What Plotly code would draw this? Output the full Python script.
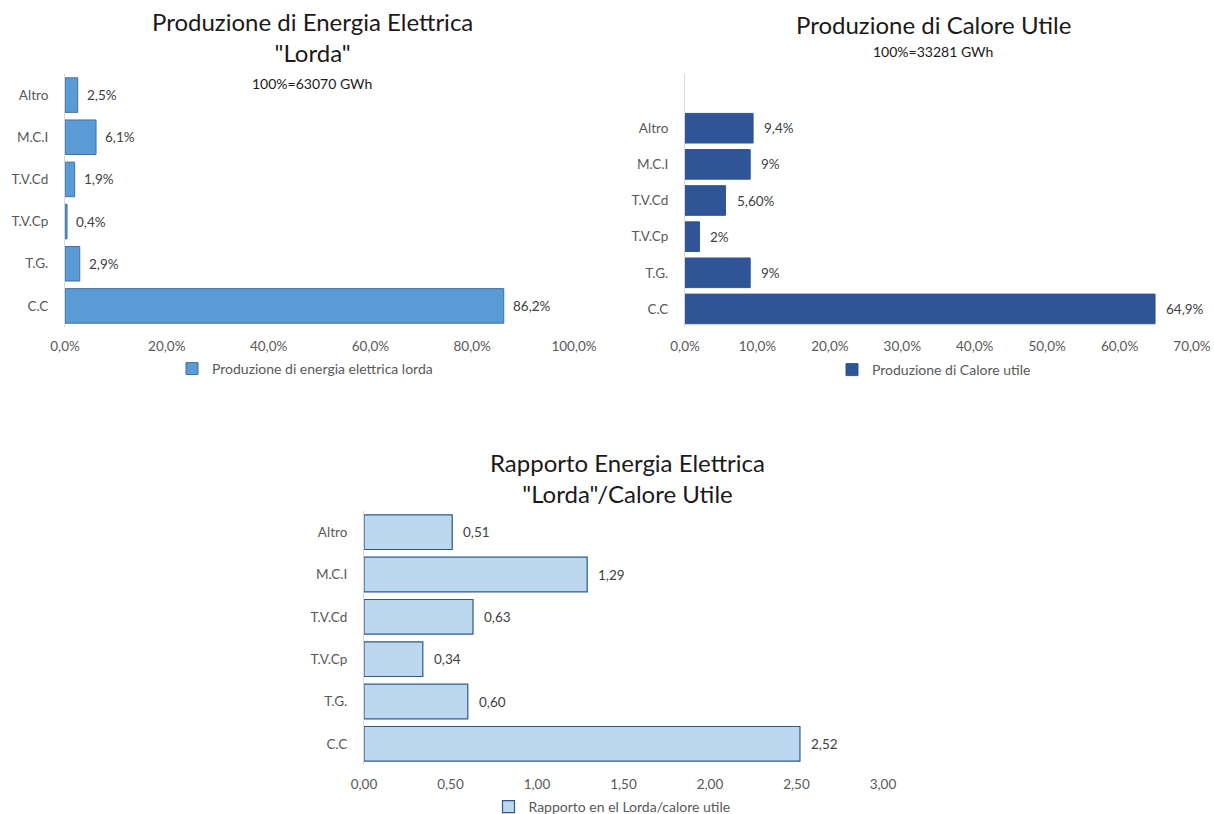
import plotly.graph_objects as go

# Categories (top to bottom)
categories = ["Altro", "M.C.I", "T.V.Cd", "T.V.Cp", "T.G.", "C.C"]

# Gross electric energy production share (%)
elettrica_pct = [2.5, 6.1, 1.9, 0.4, 2.9, 86.2]
elettrica_lbl = ["2,5%", "6,1%", "1,9%", "0,4%", "2,9%", "86,2%"]

# Useful heat production share (%)
calore_pct = [9.4, 9, 5.6, 2, 9, 64.9]
calore_lbl = ["9,4%", "9%", "5,60%", "2%", "9%", "64,9%"]

# Ratio gross electric energy / useful heat
rapporto = [0.51, 1.29, 0.63, 0.34, 0.60, 2.52]
rapporto_lbl = ["0,51", "1,29", "0,63", "0,34", "0,60", "2,52"]

FONT = "Lato"
TICK_COLOR = "#595959"
LABEL_COLOR = "#404040"

fig = go.Figure()

fig.add_trace(go.Bar(
    y=categories, x=elettrica_pct, orientation="h",
    name="Produzione di energia elettrica lorda",
    marker=dict(color="#5B9BD5", line=dict(color="#41719C", width=1)),
    xaxis="x", yaxis="y", legend="legend", showlegend=True,
))

fig.add_trace(go.Bar(
    y=categories, x=calore_pct, orientation="h",
    name="Produzione di Calore utile",
    marker=dict(color="#2F5597", line=dict(color="#2F5597", width=1)),
    xaxis="x2", yaxis="y2", legend="legend2", showlegend=True,
))

fig.add_trace(go.Bar(
    y=categories, x=rapporto, orientation="h",
    name="Rapporto en el Lorda/calore utile",
    marker=dict(color="#BDD7EE", line=dict(color="#2E5A8A", width=1.2)),
    xaxis="x3", yaxis="y3", legend="legend3", showlegend=True,
))

def xax(domain, rng, dtick, fmt, suffix, anchor):
    return dict(
        domain=domain, range=rng, dtick=dtick, tick0=0,
        tickformat=fmt, ticksuffix=suffix,
        showgrid=False, zeroline=False, showline=False,
        ticks="", ticklabelstandoff=9, automargin=False,
        ticklabeloverflow="allow",
        tickfont=dict(family=FONT, size=13.5, color=TICK_COLOR),
        anchor=anchor, fixedrange=True,
    )

def yax(domain, rng, anchor):
    return dict(
        domain=domain, range=rng, type="category",
        categoryorder="array", categoryarray=categories,
        showgrid=False, zeroline=False,
        showline=True, linecolor="#D9D9D9", linewidth=1,
        ticks="", ticklabelstandoff=13, automargin=False,
        tickfont=dict(family=FONT, size=13.5, color=TICK_COLOR),
        anchor=anchor, fixedrange=True,
    )

W, H = 1214, 814
px = lambda v: v / W
py = lambda v: 1 - v / H

def legend_at(x, y):
    return dict(
        x=px(x), y=py(y), xanchor="center", yanchor="middle",
        orientation="h", bgcolor="rgba(0,0,0,0)",
        font=dict(family=FONT, size=14, color=TICK_COLOR),
        itemwidth=30,
    )

title_font = dict(family=FONT, size=24, color="#1a1a1a")
sub_font = dict(family=FONT, size=14, color="#1a1a1a")

annotations = [
    dict(text="Produzione di Energia Elettrica<br>\"Lorda\"", x=px(312), y=py(37),
         xref="paper", yref="paper", showarrow=False, font=title_font,
         xanchor="center", yanchor="middle"),
    dict(text="100%=63070 GWh", x=px(312), y=py(84), xref="paper", yref="paper",
         showarrow=False, font=sub_font, xanchor="center", yanchor="middle"),
    dict(text="Produzione di Calore Utile", x=px(934), y=py(24),
         xref="paper", yref="paper", showarrow=False, font=title_font,
         xanchor="center", yanchor="middle"),
    dict(text="100%=33281 GWh", x=px(933), y=py(52), xref="paper", yref="paper",
         showarrow=False, font=sub_font, xanchor="center", yanchor="middle"),
    dict(text="Rapporto Energia Elettrica<br>\"Lorda\"/Calore Utile", x=px(627), y=py(478),
         xref="paper", yref="paper", showarrow=False, font=title_font,
         xanchor="center", yanchor="middle"),
]

# value labels placed just past the end of each bar
label_font = dict(family=FONT, size=13.5, color=LABEL_COLOR)
for vals, lbls, xr, yr, shift in [
    (elettrica_pct, elettrica_lbl, "x", "y", 7),
    (calore_pct, calore_lbl, "x2", "y2", 9),
    (rapporto, rapporto_lbl, "x3", "y3", 9),
]:
    for cat, v, t in zip(categories, vals, lbls):
        annotations.append(dict(
            x=v, y=cat, xref=xr, yref=yr, text=t, showarrow=False,
            xanchor="left", yanchor="middle", xshift=shift, font=label_font,
        ))

fig.update_layout(
    width=W, height=H,
    margin=dict(l=0, r=0, t=0, b=0, autoexpand=False),
    paper_bgcolor="white", plot_bgcolor="white",
    separators=",.",
    bargap=0.18,
    showlegend=True,
    xaxis=xax([px(65), px(574)], [0, 100], 20, ".1f", "%", "y"),
    yaxis=yax([py(327), py(74)], [5.5, -0.5], "x"),
    xaxis2=xax([px(685), px(1192)], [0, 70], 10, ".1f", "%", "y2"),
    yaxis2=yax([py(327), py(74)], [5.5, -1.5], "x2"),
    xaxis3=xax([px(364), px(883)], [0, 3], 0.5, ".2f", "", "y3"),
    yaxis3=yax([py(765), py(511)], [5.5, -0.5], "x3"),
    legend=legend_at(305, 369),
    legend2=legend_at(934, 370),
    legend3=legend_at(612, 807),
    annotations=annotations,
)

fig.write_html("out.html")
